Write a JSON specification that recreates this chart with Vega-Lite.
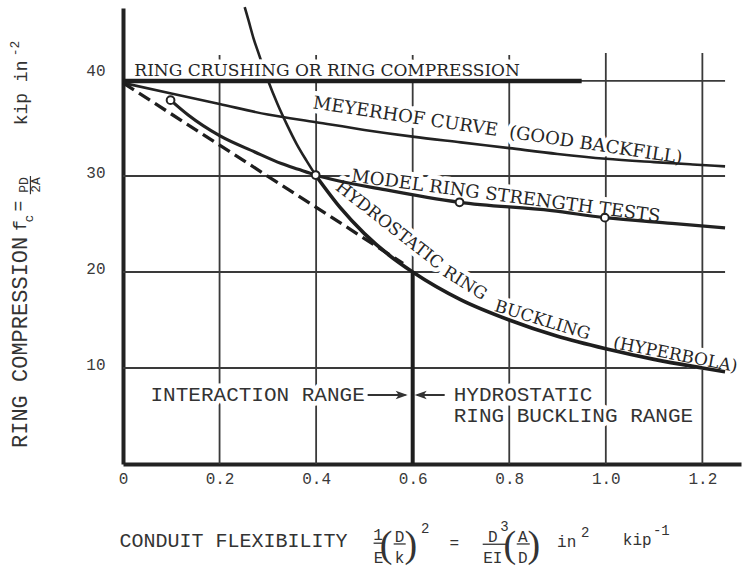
{
  "$schema": "https://vega.github.io/schema/vega-lite/v6.json",
  "width": 618,
  "height": 456,
  "autosize": "none",
  "padding": {"left": 123, "top": 8, "right": 3, "bottom": 103},
  "background": "white",
  "config": {"view": {"stroke": null}},
  "datasets": {
    "vgrid": [
      {"x": 0.2, "y": 0, "y2": 42.6}, {"x": 0.4, "y": 0, "y2": 42.6}, {"x": 0.6, "y": 0, "y2": 42.6},
      {"x": 0.8, "y": 0, "y2": 42.6}, {"x": 1.0, "y": 0, "y2": 42.8}, {"x": 1.2, "y": 0, "y2": 42.8}
    ],
    "hgrid": [
      {"x": 0, "x2": 1.247, "y": 10}, {"x": 0, "x2": 1.247, "y": 20},
      {"x": 0, "x2": 1.247, "y": 30}, {"x": 0, "x2": 1.247, "y": 39.9}
    ],
    "crush": [{"x": 0, "x2": 0.95, "y": 39.9}],
    "meyerhof": [
      {"x": 0, "y": 39.7}, {"x": 0.1, "y": 38.6}, {"x": 0.2, "y": 37.5}, {"x": 0.3, "y": 36.4},
      {"x": 0.4, "y": 35.6}, {"x": 0.5, "y": 34.8}, {"x": 0.6, "y": 34.1}, {"x": 0.7, "y": 33.5},
      {"x": 0.8, "y": 32.9}, {"x": 0.9, "y": 32.3}, {"x": 1.0, "y": 31.8}, {"x": 1.1, "y": 31.45},
      {"x": 1.18, "y": 31.2}, {"x": 1.247, "y": 31.0}
    ],
    "model": [
      {"x": 0.0985, "y": 37.9}, {"x": 0.135, "y": 36.35}, {"x": 0.2, "y": 34.2}, {"x": 0.273, "y": 32.5},
      {"x": 0.328, "y": 31.3}, {"x": 0.363, "y": 30.7}, {"x": 0.399, "y": 30.1}, {"x": 0.545, "y": 28.55},
      {"x": 0.697, "y": 27.26}, {"x": 0.888, "y": 26.4}, {"x": 0.998, "y": 25.66}, {"x": 1.137, "y": 25.07},
      {"x": 1.247, "y": 24.6}
    ],
    "tests": [
      {"x": 0.0985, "y": 37.9}, {"x": 0.399, "y": 30.1}, {"x": 0.697, "y": 27.26}, {"x": 0.998, "y": 25.66}
    ],
    "tangent": [{"x": 0, "y": 39.7}, {"x": 0.58, "y": 20.9}],
    "hypSteep": [
      {"x": 0.252, "y": 47.6}, {"x": 0.26, "y": 46.2}, {"x": 0.27, "y": 44.4}, {"x": 0.28, "y": 42.9},
      {"x": 0.3, "y": 40.0}, {"x": 0.32, "y": 37.5}, {"x": 0.34, "y": 35.3}, {"x": 0.36, "y": 33.3},
      {"x": 0.38, "y": 31.6}, {"x": 0.4, "y": 30.0}
    ],
    "hypMain": [
      {"x": 0.4, "y": 30.0}, {"x": 0.45, "y": 26.7}, {"x": 0.5, "y": 24.0}, {"x": 0.55, "y": 21.8},
      {"x": 0.6, "y": 20.0}, {"x": 0.7, "y": 17.1}, {"x": 0.8, "y": 15.0}, {"x": 0.9, "y": 13.3},
      {"x": 1.0, "y": 12.0}, {"x": 1.1, "y": 10.9}, {"x": 1.2, "y": 10.0}, {"x": 1.247, "y": 9.6}
    ],
    "divider": [{"x": 0.6, "y": 0, "y2": 20}],
    "shafts": [{"x": 0.5067, "x2": 0.585, "y": 7.19}, {"x": 0.609, "x2": 0.6663, "y": 7.19}],
    "headR": [{"x": 0.5896, "y": 7.19}],
    "headL": [{"x": 0.6041, "y": 7.19}],
    "lblCrush": [{"x": 0.4228, "y": 40.9, "text": "RING CRUSHING OR RING COMPRESSION"}],
    "lblMeyer": [{"x": 0.776, "y": 34.69, "text": "MEYERHOF CURVE\u00a0\u00a0(GOOD BACKFILL)"}],
    "lblModel": [{"x": 0.7927, "y": 27.83, "text": "MODEL RING STRENGTH TESTS"}],
    "lblHyd1": [{"x": 0.551, "y": 24.85, "text": "HYDROSTATIC"}],
    "lblHyd2": [{"x": 0.708, "y": 18.8, "text": "RING"}],
    "lblHyd3": [{"x": 0.8684, "y": 14.95, "text": "BUCKLING"}],
    "lblHyd4": [{"x": 1.144, "y": 11.35, "text": "(HYPERBOLA)"}],
    "lblRange": [
      {"x": 0.057, "y": 7.19, "text": "INTERACTION RANGE"},
      {"x": 0.685, "y": 7.19, "text": "HYDROSTATIC"},
      {"x": 0.685, "y": 4.95, "text": "RING BUCKLING RANGE"}
    ],
    "xTitle": [{"x": -0.0073, "y": -8.02, "text": "CONDUIT FLEXIBILITY"}],
    "fMain": [
      {"x": 0.5285, "y": -7.92, "text": "1"}, {"x": 0.5295, "y": -10.3, "text": "E"},
      {"x": 0.573, "y": -8.125, "text": "D"}, {"x": 0.573, "y": -10.35, "text": "k"},
      {"x": 0.686, "y": -8.8, "text": "="},
      {"x": 0.766, "y": -8.125, "text": "D"}, {"x": 0.766, "y": -10.3, "text": "EI"},
      {"x": 0.828, "y": -8.125, "text": "A"}, {"x": 0.828, "y": -10.35, "text": "D"},
      {"x": 0.919, "y": -8.65, "text": "in"}, {"x": 1.065, "y": -8.44, "text": "kip"}
    ],
    "fSup": [
      {"x": 0.626, "y": -7.19, "text": "2"}, {"x": 0.79, "y": -7.0, "text": "3"},
      {"x": 0.9575, "y": -7.6, "text": "2"}, {"x": 1.115, "y": -7.4, "text": "-1"}
    ],
    "fParen": [
      {"x": 0.545, "y": -8.54, "text": "("}, {"x": 0.596, "y": -8.54, "text": ")"},
      {"x": 0.801, "y": -8.54, "text": "("}, {"x": 0.8508, "y": -8.54, "text": ")"}
    ],
    "fBars": [
      {"x": 0.519, "x2": 0.54, "y": -8.25}, {"x": 0.5606, "x2": 0.5855, "y": -8.33},
      {"x": 0.745, "x2": 0.7948, "y": -8.36}, {"x": 0.8155, "x2": 0.8425, "y": -8.33}
    ],
    "yTitleMain": [{"x": -0.2124, "y": 1.667, "text": "RING COMPRESSION"}],
    "yTitleMid": [
      {"x": -0.2104, "y": 24.84, "text": "f"}, {"x": -0.2145, "y": 26.875, "text": "="},
      {"x": -0.2083, "y": 38.65, "text": "kip in"}
    ],
    "yTitleSmall": [
      {"x": -0.1948, "y": 25.57, "text": "c"}, {"x": -0.2041, "y": 29.06, "text": "PD"},
      {"x": -0.1793, "y": 29.06, "text": "2A"}, {"x": -0.2238, "y": 43.28, "text": "-2"}
    ],
    "yBar": [{"x": -0.1917, "y": 28.1, "y2": 30.0}]
  },
  "encoding": {
    "x": {
      "field": "x", "type": "quantitative",
      "scale": {"domain": [0, 1.28], "nice": false, "zero": false},
      "axis": {
        "values": [0, 0.2, 0.4, 0.6, 0.8, 1.0, 1.2],
        "labelExpr": "datum.value == 0 ? '0' : format(datum.value, '.1f')",
        "title": null, "grid": false, "ticks": false,
        "domainColor": "#222", "domainWidth": 4,
        "labelFont": "Liberation Mono", "labelFontSize": 16, "labelColor": "#3a3a3a",
        "labelPadding": 6, "labelFlush": false
      }
    },
    "y": {
      "field": "y", "type": "quantitative",
      "scale": {"domain": [0, 47.5], "nice": false, "zero": false},
      "axis": {
        "values": [10, 20, 30, 40],
        "title": null, "grid": false, "ticks": false,
        "domainColor": "#222", "domainWidth": 4,
        "labelFont": "Liberation Mono", "labelFontSize": 16, "labelColor": "#3a3a3a",
        "labelPadding": 18,
        "labelOffset": {"condition": {"test": "datum.value == 40", "value": -10}, "value": -4}
      }
    }
  },
  "layer": [
    {"data": {"name": "vgrid"}, "mark": {"type": "rule", "color": "#3a3a3a", "strokeWidth": 1.8}, "encoding": {"y2": {"field": "y2"}}},
    {"data": {"name": "hgrid"}, "mark": {"type": "rule", "color": "#3a3a3a", "strokeWidth": 1.8}, "encoding": {"x2": {"field": "x2"}}},
    {"data": {"name": "hypSteep"}, "mark": {"type": "line", "color": "#222", "strokeWidth": 2.6, "interpolate": "monotone"}, "encoding": {}},

    {"data": {"name": "lblCrush"}, "mark": {"type": "text", "font": "DejaVu Serif", "fontSize": 17, "align": "center", "baseline": "middle", "color": "white", "stroke": "white", "strokeWidth": 9, "strokeJoin": "round"}, "encoding": {"text": {"field": "text"}}},
    {"data": {"name": "lblMeyer"}, "mark": {"type": "text", "font": "DejaVu Serif", "fontSize": 18, "angle": 8.5, "align": "center", "baseline": "middle", "color": "white", "stroke": "white", "strokeWidth": 9, "strokeJoin": "round"}, "encoding": {"text": {"field": "text"}}},
    {"data": {"name": "lblModel"}, "mark": {"type": "text", "font": "DejaVu Serif", "fontSize": 18, "angle": 7.5, "align": "center", "baseline": "middle", "color": "white", "stroke": "white", "strokeWidth": 9, "strokeJoin": "round"}, "encoding": {"text": {"field": "text"}}},
    {"data": {"name": "lblHyd1"}, "mark": {"type": "text", "font": "DejaVu Serif", "fontSize": 17, "angle": 38, "align": "center", "baseline": "middle", "color": "white", "stroke": "white", "strokeWidth": 9, "strokeJoin": "round"}, "encoding": {"text": {"field": "text"}}},
    {"data": {"name": "lblHyd2"}, "mark": {"type": "text", "font": "DejaVu Serif", "fontSize": 17, "angle": 32, "align": "center", "baseline": "middle", "color": "white", "stroke": "white", "strokeWidth": 9, "strokeJoin": "round"}, "encoding": {"text": {"field": "text"}}},
    {"data": {"name": "lblHyd3"}, "mark": {"type": "text", "font": "DejaVu Serif", "fontSize": 17, "angle": 17, "align": "center", "baseline": "middle", "color": "white", "stroke": "white", "strokeWidth": 9, "strokeJoin": "round"}, "encoding": {"text": {"field": "text"}}},
    {"data": {"name": "lblHyd4"}, "mark": {"type": "text", "font": "DejaVu Serif", "fontSize": 17, "angle": 11, "align": "center", "baseline": "middle", "color": "white", "stroke": "white", "strokeWidth": 9, "strokeJoin": "round"}, "encoding": {"text": {"field": "text"}}},
    {"data": {"name": "lblRange"}, "mark": {"type": "text", "font": "Liberation Mono", "fontSize": 21, "align": "left", "baseline": "middle", "color": "white", "stroke": "white", "strokeWidth": 9, "strokeJoin": "round"}, "encoding": {"text": {"field": "text"}}},

    {"data": {"name": "crush"}, "mark": {"type": "rule", "color": "#1e1e1e", "strokeWidth": 4.5}, "encoding": {"x2": {"field": "x2"}}},
    {"data": {"name": "meyerhof"}, "mark": {"type": "line", "color": "#222", "strokeWidth": 2.6, "interpolate": "monotone"}, "encoding": {}},
    {"data": {"name": "model"}, "mark": {"type": "line", "color": "#222", "strokeWidth": 3.2, "interpolate": "monotone"}, "encoding": {}},
    {"data": {"name": "tangent"}, "mark": {"type": "line", "color": "#1e1e1e", "strokeWidth": 3.3, "strokeDash": [13, 6]}, "encoding": {}},
    {"data": {"name": "hypMain"}, "mark": {"type": "line", "color": "#1e1e1e", "strokeWidth": 3.6, "interpolate": "monotone"}, "encoding": {}},
    {"data": {"name": "divider"}, "mark": {"type": "rule", "color": "#1e1e1e", "strokeWidth": 4}, "encoding": {"y2": {"field": "y2"}}},
    {"data": {"name": "shafts"}, "mark": {"type": "rule", "color": "#333", "strokeWidth": 2}, "encoding": {"x2": {"field": "x2"}}},
    {"data": {"name": "headR"}, "mark": {"type": "point", "shape": "M0,0L-1,-0.35L-0.75,0L-1,0.35Z", "size": 576, "filled": true, "color": "#333", "opacity": 1}, "encoding": {}},
    {"data": {"name": "headL"}, "mark": {"type": "point", "shape": "M0,0L1,-0.35L0.75,0L1,0.35Z", "size": 576, "filled": true, "color": "#333", "opacity": 1}, "encoding": {}},
    {"data": {"name": "tests"}, "mark": {"type": "point", "shape": "circle", "size": 60, "filled": true, "fill": "white", "stroke": "#222", "strokeWidth": 2, "opacity": 1}, "encoding": {}},

    {"data": {"name": "lblCrush"}, "mark": {"type": "text", "font": "DejaVu Serif", "fontSize": 17, "align": "center", "baseline": "middle", "color": "#262626"}, "encoding": {"text": {"field": "text"}}},
    {"data": {"name": "lblMeyer"}, "mark": {"type": "text", "font": "DejaVu Serif", "fontSize": 18, "angle": 8.5, "align": "center", "baseline": "middle", "color": "#262626"}, "encoding": {"text": {"field": "text"}}},
    {"data": {"name": "lblModel"}, "mark": {"type": "text", "font": "DejaVu Serif", "fontSize": 18, "angle": 7.5, "align": "center", "baseline": "middle", "color": "#262626"}, "encoding": {"text": {"field": "text"}}},
    {"data": {"name": "lblHyd1"}, "mark": {"type": "text", "font": "DejaVu Serif", "fontSize": 17, "angle": 38, "align": "center", "baseline": "middle", "color": "#262626"}, "encoding": {"text": {"field": "text"}}},
    {"data": {"name": "lblHyd2"}, "mark": {"type": "text", "font": "DejaVu Serif", "fontSize": 17, "angle": 32, "align": "center", "baseline": "middle", "color": "#262626"}, "encoding": {"text": {"field": "text"}}},
    {"data": {"name": "lblHyd3"}, "mark": {"type": "text", "font": "DejaVu Serif", "fontSize": 17, "angle": 17, "align": "center", "baseline": "middle", "color": "#262626"}, "encoding": {"text": {"field": "text"}}},
    {"data": {"name": "lblHyd4"}, "mark": {"type": "text", "font": "DejaVu Serif", "fontSize": 17, "angle": 11, "align": "center", "baseline": "middle", "color": "#262626"}, "encoding": {"text": {"field": "text"}}},
    {"data": {"name": "lblRange"}, "mark": {"type": "text", "font": "Liberation Mono", "fontSize": 21, "align": "left", "baseline": "middle", "color": "#333"}, "encoding": {"text": {"field": "text"}}},

    {"data": {"name": "xTitle"}, "mark": {"type": "text", "font": "Liberation Mono", "fontSize": 20, "align": "left", "baseline": "middle", "color": "#333"}, "encoding": {"text": {"field": "text"}}},
    {"data": {"name": "fMain"}, "mark": {"type": "text", "font": "Liberation Mono", "fontSize": 16, "align": "center", "baseline": "alphabetic", "color": "#333"}, "encoding": {"text": {"field": "text"}}},
    {"data": {"name": "fSup"}, "mark": {"type": "text", "font": "Liberation Mono", "fontSize": 14, "align": "center", "baseline": "alphabetic", "color": "#333"}, "encoding": {"text": {"field": "text"}}},
    {"data": {"name": "fParen"}, "mark": {"type": "text", "font": "Liberation Serif", "fontSize": 38, "align": "center", "baseline": "middle", "color": "#333"}, "encoding": {"text": {"field": "text"}}},
    {"data": {"name": "fBars"}, "mark": {"type": "rule", "color": "#333", "strokeWidth": 1.3}, "encoding": {"x2": {"field": "x2"}}},

    {"data": {"name": "yTitleMain"}, "mark": {"type": "text", "font": "Liberation Mono", "fontSize": 22, "angle": 270, "align": "left", "baseline": "middle", "color": "#333"}, "encoding": {"text": {"field": "text"}}},
    {"data": {"name": "yTitleMid"}, "mark": {"type": "text", "font": "Liberation Mono", "fontSize": 18, "angle": 270, "align": "center", "baseline": "middle", "color": "#333"}, "encoding": {"text": {"field": "text"}}},
    {"data": {"name": "yTitleSmall"}, "mark": {"type": "text", "font": "Liberation Mono", "fontSize": 13, "angle": 270, "align": "center", "baseline": "middle", "color": "#333"}, "encoding": {"text": {"field": "text"}}},
    {"data": {"name": "yBar"}, "mark": {"type": "rule", "color": "#333", "strokeWidth": 1.2}, "encoding": {"y2": {"field": "y2"}}}
  ]
}
